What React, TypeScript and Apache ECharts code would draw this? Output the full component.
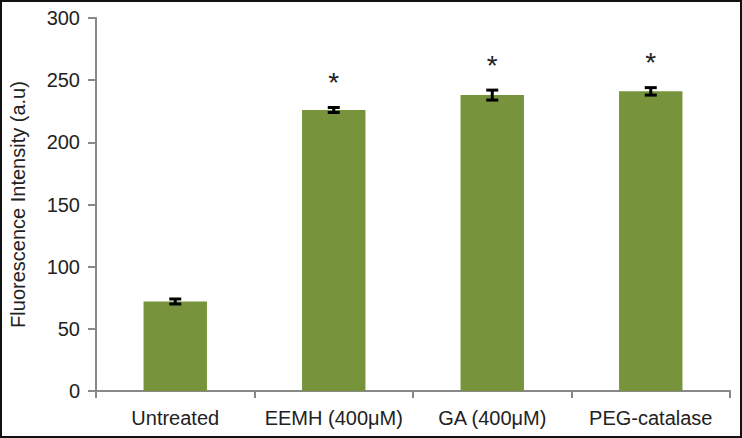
import React, { useEffect, useRef } from "react";
import * as echarts from "echarts";

const categories = ["Untreated", "EEMH (400μM)", "GA (400μM)", "PEG-catalase"];
const values = [72, 226, 238, 241];
const errors = [2, 2, 4, 3];
const significant = [false, true, true, true];
const yTicks = { min: 0, max: 300, interval: 50 };

const FONT = "Liberation Sans, Arial, sans-serif";

export default function App() {
  const ref = useRef<HTMLDivElement>(null);
  useEffect(() => {
    const chart = echarts.init(ref.current!, null, { renderer: "svg" });
    const errData = values.map((v, i) => [i, v, errors[i], significant[i] ? 1 : 0]);
    chart.setOption({
      animation: false,
      backgroundColor: "#ffffff",
      grid: { left: 96, right: 12, top: 18, bottom: 47, containLabel: false, outerBoundsMode: "none" },
      xAxis: {
        type: "category",
        data: categories,
        axisLine: { lineStyle: { color: "#888888", width: 2 } },
        axisTick: { show: true, length: 7, lineStyle: { color: "#888888", width: 2 } },
        axisLabel: { color: "#222222", fontSize: 20, fontFamily: FONT, margin: 17, interval: 0, hideOverlap: false },
      },
      yAxis: {
        type: "value",
        min: yTicks.min,
        max: yTicks.max,
        interval: yTicks.interval,
        name: "Fluorescence Intensity (a.u)",
        nameLocation: "middle",
        nameGap: 68,
        nameTextStyle: { color: "#222222", fontSize: 20, fontFamily: FONT },
        splitLine: { show: false },
        axisLine: { show: true, lineStyle: { color: "#888888", width: 2 } },
        axisTick: { show: true, length: 8, lineStyle: { color: "#888888", width: 2 } },
        axisLabel: { color: "#222222", fontSize: 20, fontFamily: FONT, margin: 16 },
      },
      series: [
        {
          type: "bar",
          data: values,
          barWidth: "40%",
          itemStyle: { color: "#77933C" },
        },
        {
          type: "custom",
          data: errData,
          z: 10,
          renderItem: (params: any, api: any) => {
            const x = api.value(0);
            const v = api.value(1);
            const e = api.value(2);
            const star = api.value(3);
            const top = api.coord([x, v + e]);
            const bot = api.coord([x, v - e]);
            const cx = top[0];
            const hw = 6;
            const style = { stroke: "#000000", lineWidth: 3 };
            const children: any[] = [
              { type: "line", shape: { x1: cx, y1: top[1], x2: cx, y2: bot[1] }, style },
              { type: "line", shape: { x1: cx - hw, y1: top[1], x2: cx + hw, y2: top[1] }, style },
              { type: "line", shape: { x1: cx - hw, y1: bot[1], x2: cx + hw, y2: bot[1] }, style },
            ];
            if (star) {
              children.push({
                type: "text",
                style: {
                  text: "*",
                  x: cx,
                  y: top[1] - 25,
                  align: "center",
                  verticalAlign: "middle",
                  fontSize: 28,
                  fontFamily: FONT,
                  fill: "#222222",
                },
              });
            }
            return { type: "group", children };
          },
        },
      ],
      graphic: [
        {
          type: "rect",
          shape: { x: 1, y: 1, width: 740, height: 436 },
          style: { fill: "none", stroke: "#111111", lineWidth: 2 },
          z: 100,
        },
      ],
    });
    return () => chart.dispose();
  }, []);
  return <div ref={ref} style={{ position: "absolute", left: 0, top: 0, width: 742, height: 438 }} />;
}
